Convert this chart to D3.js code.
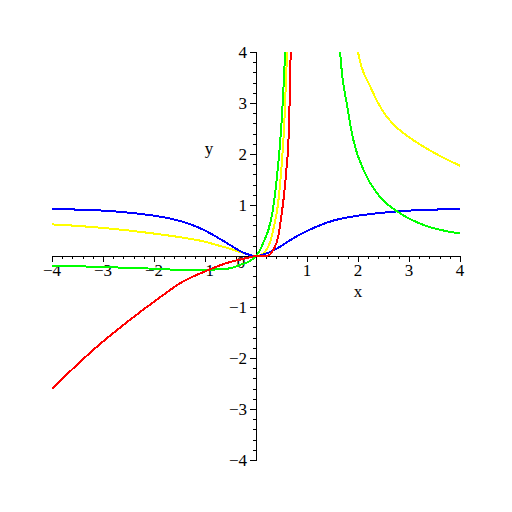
<!DOCTYPE html>
<html>
<head>
<meta charset="utf-8">
<script src="https://cdn.jsdelivr.net/npm/d3@7"></script>
<style>
  body { margin: 0; background: #fff; }
  text { font-family: "Liberation Serif", "DejaVu Serif", serif; font-size: 17px; fill: #000; }
</style>
</head>
<body>
<svg width="512" height="512"></svg>
<script>
// values, [x, y]
var blue = [[-4,0.92],[-3.5,0.91],[-3,0.89],[-2.5,0.85],[-2,0.79],[-1.5,0.69],[-1,0.5],[-0.75,0.36],
            [-0.5,0.21],[-0.3,0.09],[-0.15,0.03],[0,0],[0.15,0.03],[0.3,0.09],[0.5,0.2],[0.75,0.36],
            [1,0.49],[1.5,0.69],[2,0.79],[2.5,0.85],[3,0.89],[3.5,0.91],[4,0.92]];
var yellowLeft = [[-4,0.62],[-3.5,0.59],[-3,0.55],[-2.5,0.5],[-2,0.44],[-1.5,0.37],[-1,0.28],[-0.75,0.21],
                  [-0.5,0.14],[-0.25,0.06],[0,0],[0.14,0.05],[0.22,0.15],[0.29,0.31],[0.35,0.57],
                  [0.425,0.97],[0.49,1.62],[0.555,2.6],[0.61,4],[0.63,4.6]];
var yellowRight = [[1.95,4.4],[2,4],[2.24,3.32],[2.5,2.82],[2.76,2.52],[3,2.33],[3.5,2.02],[4,1.77]];
var greenLeft = [[-4,-0.19],[-3.5,-0.2],[-3,-0.22],[-2.5,-0.23],[-2,-0.25],[-1.5,-0.27],[-1,-0.27],
                 [-0.7,-0.26],[-0.5,-0.24],[-0.3,-0.17],[-0.12,-0.1],[0,0],[0.08,0.12],[0.16,0.3],
                 [0.24,0.5],[0.33,0.9],[0.41,1.55],[0.5,2.6],[0.57,4],[0.59,4.6]];
var greenRight = [[1.63,4.5],[1.65,4],[1.79,2.93],[1.91,2.27],[2.14,1.62],[2.43,1.16],[2.82,0.84],
                  [3.28,0.61],[4,0.44]];
var redLeft = [[-4,-2.6],[-3.58,-2.2],[-3.19,-1.84],[-2.47,-1.25],[-1.95,-0.86],[-1.43,-0.5],[-0.97,-0.29],
               [-0.58,-0.14],[-0.31,-0.07],[-0.1,-0.02],[0,0],[0.15,0],[0.24,0.01],[0.34,0.12],[0.44,0.4],
               [0.5,0.8],[0.55,1.2],[0.59,1.62],[0.65,2.6],[0.68,4],[0.69,4.6]];
var xTicks = [-4,-3,-2,-1,1,2,3,4];
var yTicks = [-4,-3,-2,-1,1,2,3,4];

var svg = d3.select("svg");
var x = d3.scaleLinear().domain([-4, 4]).range([52, 460]);
var y = d3.scaleLinear().domain([-4, 4]).range([460, 52]);

svg.append("clipPath").attr("id", "clip")
  .append("rect").attr("x", 40).attr("y", y(4)).attr("width", 440).attr("height", y(-4) - y(4));

// axes
var xAxis = svg.append("g").attr("transform", "translate(0," + y(0) + ")")
  .call(d3.axisBottom(x).tickValues(d3.range(-4, 4.01, 0.2)).tickSize(3).tickFormat(""));
xAxis.append("g").call(d3.axisBottom(x).tickValues(xTicks.concat([0])).tickSize(6).tickFormat(""));
var yAxis = svg.append("g").attr("transform", "translate(" + x(0) + ",0)")
  .call(d3.axisLeft(y).tickValues(d3.range(-4, 4.01, 0.2)).tickSize(3).tickFormat(""));
yAxis.append("g").call(d3.axisLeft(y).tickValues(yTicks.concat([0])).tickSize(6).tickFormat(""));
svg.selectAll(".domain").attr("stroke", "#000").attr("stroke-width", 1);
svg.selectAll(".tick line").attr("stroke", "#000").attr("shape-rendering", "crispEdges");
svg.selectAll(".domain").attr("shape-rendering", "crispEdges");

function fmt(v) { return v < 0 ? "\u2212" + (-v) : "" + v; }

svg.append("g").selectAll("text").data(xTicks).enter().append("text")
  .attr("x", function(d) { return x(d); }).attr("y", y(0) + 20)
  .attr("text-anchor", "middle").text(fmt);
svg.append("g").selectAll("text").data(yTicks).enter().append("text")
  .attr("x", x(0) - 9).attr("y", function(d) { return y(d) + 6; })
  .attr("text-anchor", "end").text(fmt);
svg.append("text").attr("x", x(0) - 15).attr("y", y(0) + 12).attr("text-anchor", "middle").text("0");
svg.append("text").attr("x", x(2)).attr("y", y(-0.8)).attr("text-anchor", "middle").text("x");
svg.append("text").attr("x", x(-0.92)).attr("y", y(2)).attr("text-anchor", "middle").text("y");

var line = d3.line().x(function(d) { return x(d[0]); }).y(function(d) { return y(d[1]); })
  .curve(d3.curveMonotoneX);

var curves = [
  [yellowLeft, "#ffff00"], [yellowRight, "#ffff00"],
  [blue, "#0000ff"],
  [greenLeft, "#00ff00"], [greenRight, "#00ff00"],
  [redLeft, "#ff0000"]
];
var g = svg.append("g").attr("clip-path", "url(#clip)");
curves.forEach(function(c) {
  g.append("path").attr("d", line(c[0])).attr("fill", "none")
    .attr("stroke", c[1]).attr("stroke-width", 2).attr("shape-rendering", "crispEdges");
});
</script>
</body>
</html>
